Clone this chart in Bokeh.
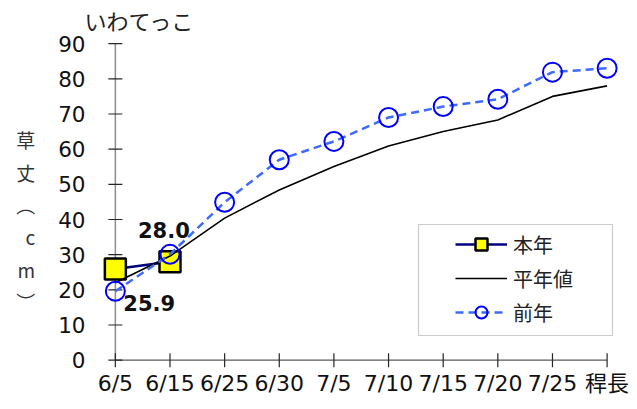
from bokeh.plotting import figure
from bokeh.models import ColumnDataSource, FixedTicker, Legend, LegendItem, BoxAnnotation, Range1d
from bokeh.embed import file_html
from bokeh.resources import INLINE
from bokeh.core.properties import value

# ---- data ----
categories = ["6/5", "6/15", "6/25", "6/30", "7/5", "7/10", "7/15", "7/20", "7/25", "稈長"]
this_year = [25.9, 28.0]
normal_year = [22.0, 29.6, 40.4, 48.4, 55.1, 60.9, 65.0, 68.3, 75.0, 78.0]
last_year = [19.6, 30.1, 44.9, 57.0, 62.2, 69.0, 72.1, 74.2, 81.9, 83.0]
y_ticks = [0, 10, 20, 30, 40, 50, 60, 70, 80, 90]

xs = list(range(len(categories)))
xs_this = xs[:len(this_year)]

NUM_FONT = "'DejaVu Sans', 'Noto Sans CJK JP'"
JP_FONT = "'Noto Sans CJK JP'"

p = figure(frame_width=530, frame_height=336,
           x_range=Range1d(-0.4, 9.3), y_range=Range1d(-3.5, 92.03),
           min_border_left=93, min_border_right=6, min_border_top=35, min_border_bottom=27,
           output_backend="svg", toolbar_location=None)
p.outline_line_color = None
p.grid.visible = False
p.background_fill_color = "white"

# title
p.title.text = "いわてっこ"
p.title.text_font = JP_FONT
p.title.text_font_size = "22px"
p.title.text_font_style = "normal"
p.title.text_color = "#222222"
p.title.align = "left"
p.title.offset = -9
p.title.standoff = 2

# axes (labels only; lines/ticks drawn below)
for ax in (p.xaxis[0], p.yaxis[0]):
    ax.axis_line_color = None
    ax.major_tick_line_color = None
    ax.minor_tick_line_color = None
    ax.major_tick_in = 0
    ax.major_tick_out = 0
    ax.major_label_text_font = NUM_FONT
    ax.major_label_text_color = "#111111"

p.xaxis.major_label_text_font_size = "22px"
p.yaxis.major_label_text_font_size = "21.5px"

p.xaxis.ticker = FixedTicker(ticks=xs)
p.xaxis.major_label_overrides = {i: c for i, c in enumerate(categories)}
p.xaxis.major_label_standoff = -2

p.yaxis.ticker = FixedTicker(ticks=y_ticks)
p.yaxis.major_label_standoff = 8
p.yaxis.axis_label = "\n草\n丈\n︵\nc\nm\n︶"
p.yaxis.axis_label_orientation = "horizontal"
p.yaxis.axis_label_text_font = JP_FONT
p.yaxis.axis_label_text_font_size = "19px"
p.yaxis.axis_label_text_font_style = "normal"
p.yaxis.axis_label_text_color = "#333333"
p.yaxis.axis_label_text_line_height = 1.2
p.yaxis.axis_label_standoff = 20

# hand-drawn axis lines and crossing ticks
x_last = xs[-1]
y_top = y_ticks[-1]
p.segment(x0=[0], y0=[0], x1=[0], y1=[y_top], line_color="#8c8c8c", line_width=1.5)
p.segment(x0=[0], y0=[0], x1=[x_last], y1=[0], line_color="#595959", line_width=1.2)
p.segment(x0=[-0.128] * len(y_ticks), y0=y_ticks, x1=[0.128] * len(y_ticks), y1=y_ticks,
          line_color="#262626", line_width=1.2)
p.segment(x0=xs, y0=[-2.0] * len(xs), x1=xs, y1=[2.0] * len(xs),
          line_color="#262626", line_width=1.2)

# legend frame
p.add_layout(BoxAnnotation(left=5.548, right=9.098, bottom=7.02, top=38.58,
                           fill_color="white", fill_alpha=1.0,
                           line_color="#555555", line_width=1.2, level="underlay"))

# series
src_this = ColumnDataSource(dict(x=xs_this, y=this_year, lbl=["%.1f" % v for v in this_year]))
src_norm = ColumnDataSource(dict(x=xs, y=normal_year))
src_last = ColumnDataSource(dict(x=xs, y=last_year))

r_this_line = p.line("x", "y", source=src_this, line_color="#000080", line_width=2.5)
r_this_pts = p.scatter("x", "y", source=src_this, marker="square", size=21,
                       fill_color="#FFFF00", line_color="black", line_width=2.5)
r_norm = p.line("x", "y", source=src_norm, line_color="black", line_width=1.6)
r_last_line = p.line("x", "y", source=src_last, line_color="#3D6BFF", line_width=2.5,
                     line_dash="8 5")
r_last_pts = p.scatter("x", "y", source=src_last, marker="circle", size=19,
                       fill_color=None, line_color="#0000FF", line_width=2)

# data labels
lbls = src_this.data["lbl"]
p.text(x=xs_this[:1], y=this_year[:1], text=lbls[:1], x_offset=8, y_offset=34,
       text_font=value(NUM_FONT), text_font_size="21px", text_font_style="bold",
       text_color="#111111", text_align="left", text_baseline="alphabetic")
p.text(x=xs_this[1:], y=this_year[1:], text=lbls[1:], x_offset=-32, y_offset=-32,
       text_font=value(NUM_FONT), text_font_size="21px", text_font_style="bold",
       text_color="#111111", text_align="left", text_baseline="alphabetic")

legend = Legend(items=[
    LegendItem(label="本年", renderers=[r_this_line, r_this_pts]),
    LegendItem(label="平年値", renderers=[r_norm]),
    LegendItem(label="前年", renderers=[r_last_line, r_last_pts]),
], location=(362, 45))
legend.padding = 0
legend.margin = 0
legend.spacing = 4
legend.glyph_width = 52
legend.glyph_height = 30
legend.label_standoff = 6
legend.label_text_font = JP_FONT
legend.label_text_font_size = "20px"
legend.label_text_color = "#222222"
legend.border_line_color = None
legend.background_fill_alpha = 0
p.add_layout(legend, "center")

open("out.html", "w").write(file_html(p, INLINE))
